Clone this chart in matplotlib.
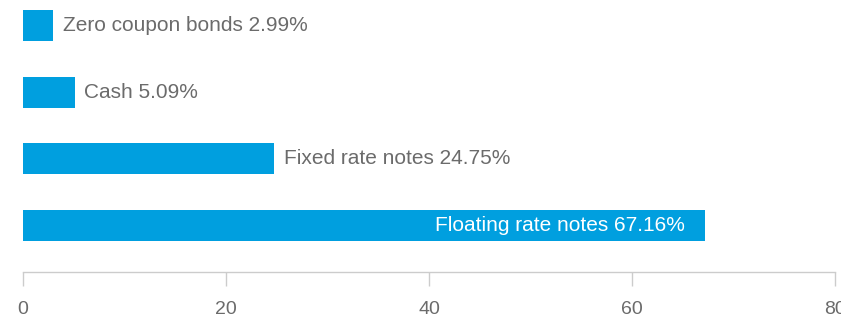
import matplotlib.pyplot as plt

# data
categories = ["Zero coupon bonds", "Cash", "Fixed rate notes", "Floating rate notes"]
values = [2.99, 5.09, 24.75, 67.16]
ticks = [0, 20, 40, 60, 80]

barColor = "#009fdf"
textColor = "#6b6b6b"
axisColor = "#cccccc"

plt.rcParams["font.family"] = ["Liberation Sans", "DejaVu Sans"]

fig = plt.figure(figsize=(8.41, 3.18), dpi=100)
ax = fig.add_axes([23 / 841, 46 / 318, 812 / 841, 272 / 318])

pos = list(range(len(categories)))
ax.barh(pos, values, height=0.465, color=barColor)

for i, (name, val) in enumerate(zip(categories, values)):
    label = f"{name} {val:.2f}%"
    if val > 50:  # big bar -> label sits inside, white
        ax.annotate(label, (val, i), xytext=(-14, 0), textcoords="offset points",
                    ha="right", va="center", color="white", fontsize=15)
    else:
        ax.annotate(label, (val, i), xytext=(7, 0), textcoords="offset points",
                    ha="left", va="center", color=textColor, fontsize=15)

ax.set_xlim(0, 80)
ax.set_ylim(3.70, -0.38)
ax.set_xticks(ticks)
ax.set_yticks([])

for side in ["top", "right", "left"]:
    ax.spines[side].set_visible(False)
ax.spines["bottom"].set_color(axisColor)
ax.spines["bottom"].set_linewidth(1)
ax.tick_params(axis="x", direction="out", length=10, width=1, color=axisColor,
               labelcolor=textColor, labelsize=14, pad=11)

fig.savefig("out.png", dpi=100)
